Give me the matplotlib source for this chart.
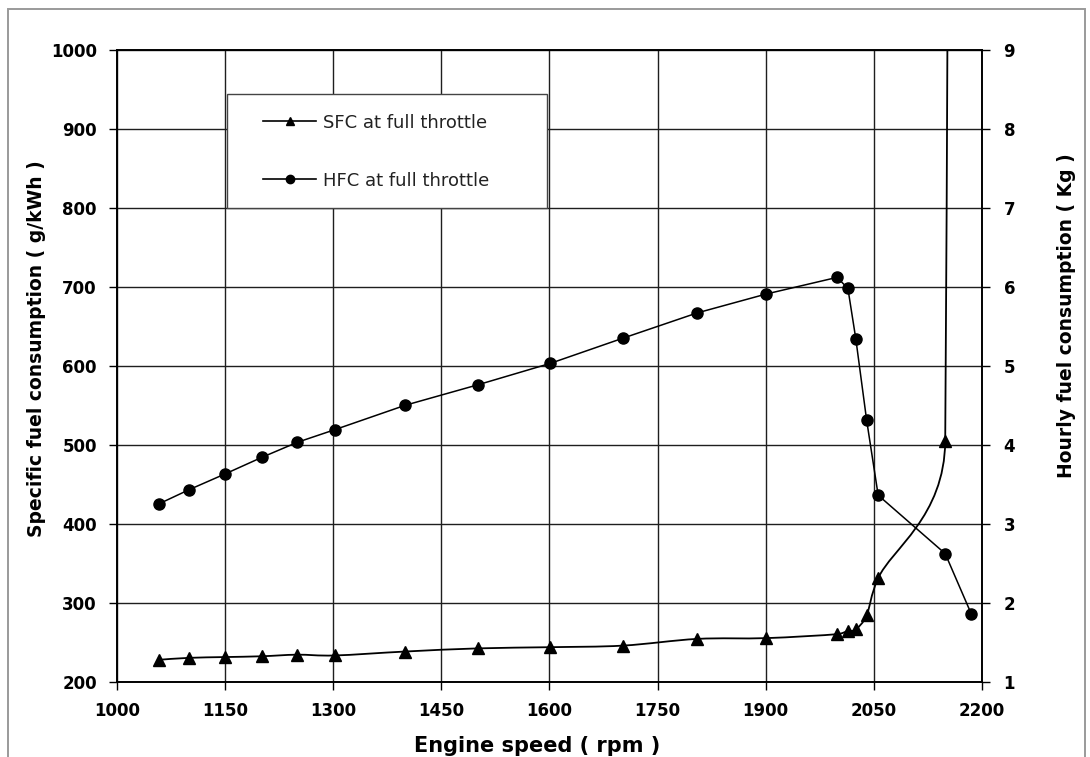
import numpy as np
import matplotlib
matplotlib.use('Agg')
import matplotlib.pyplot as plt
from matplotlib.path import Path
from matplotlib.patches import PathPatch, Rectangle
from matplotlib.lines import Line2D

# engine test points at full throttle
rpm = [1058, 1100, 1150, 1201, 1250, 1302, 1400, 1501, 1601, 1702, 1805,
       1901, 1999, 2014, 2025, 2040, 2056, 2149, 2185]
# specific fuel consumption, g/kWh (last point runs off the top of the chart)
sfc = [227.5, 230, 231, 232, 234, 233, 238, 242, 243.5, 245.5, 254,
       255, 260, 264, 266, 284, 331, 505, 18000]
# hourly fuel consumption, kg
hfc = [3.25, 3.43, 3.63, 3.84, 4.03, 4.19, 4.50, 4.76, 5.03, 5.35, 5.67,
       5.91, 6.12, 5.98, 5.34, 4.31, 3.36, 2.62, 1.86]

x_ticks = list(range(1000, 2201, 150))
sfc_ticks = list(range(200, 1001, 100))
hfc_ticks = list(range(1, 10))


def smooth_path(ax, xs, ys):
    """Spreadsheet-style smoothed line: cubic Bezier through every point,
    control arms limited to half of each segment (worked out in pixels)."""
    pts = ax.transData.transform(np.column_stack([xs, ys]))
    n = len(pts)
    verts = [pts[0]]
    codes = [Path.MOVETO]
    for i in range(n - 1):
        p0 = pts[i - 1] if i > 0 else pts[i]
        p1 = pts[i]
        p2 = pts[i + 1]
        p3 = pts[i + 2] if i + 2 < n else pts[i + 1]
        seg = np.hypot(*(p2 - p1))
        t1 = p2 - p0
        t2 = p3 - p1
        f1 = min(1 / 6, 0.5 * seg / max(np.hypot(*t1), 1e-9))
        f2 = min(1 / 6, 0.5 * seg / max(np.hypot(*t2), 1e-9))
        verts += [p1 + f1 * t1, p2 - f2 * t2, p2]
        codes += [Path.CURVE4] * 3
    verts = ax.transData.inverted().transform(np.array(verts))
    return Path(verts, codes)


fig = plt.figure(figsize=(10.9, 7.57), dpi=100)
ax = fig.add_axes([0.1073, 0.0997, 0.7936, 0.8342])
ax2 = ax.twinx()

ax.set_xlim(1000, 2200)
ax.set_ylim(200, 1000)
ax2.set_ylim(1, 9)

ax.set_xticks(x_ticks, labels=[str(t) for t in x_ticks], fontweight='bold')
ax.set_yticks(sfc_ticks, labels=[str(t) for t in sfc_ticks], fontweight='bold')
ax2.set_yticks(hfc_ticks, labels=[str(t) for t in hfc_ticks], fontweight='bold')

ax.tick_params(axis='both', direction='out', length=5.5, width=1,
               labelsize=12, pad=9, color='black')
ax2.tick_params(axis='y', direction='out', length=5.5, width=1,
                labelsize=12, pad=10)

ax.grid(True, color='#1e1e1e', lw=1.0)
for a in (ax, ax2):
    for sp in a.spines.values():
        sp.set_color('black')
        sp.set_linewidth(1.2)

# SFC on the left axis, smoothed line with triangles
ax.add_patch(PathPatch(smooth_path(ax, rpm, sfc), fill=False,
                       edgecolor='black', lw=1.3, zorder=3))
ax.plot(rpm, sfc, linestyle='none', marker='^', ms=8.5, color='black', zorder=4)

# HFC on the right axis, straight segments with circles
ax2.plot(rpm, hfc, color='black', lw=1.1, marker='o', ms=8, zorder=3)

# legend box
ax2.add_patch(Rectangle((0.1268, 0.7498), 0.37, 0.1805, transform=ax2.transAxes,
                        facecolor='white', edgecolor='#444444', lw=1.0, zorder=4))
handles = [Line2D([0], [0], color='black', lw=1.2, marker='^', ms=6),
           Line2D([0], [0], color='black', lw=1.2, marker='o', ms=6)]
leg = ax2.legend(handles, ['SFC at full throttle', 'HFC at full throttle'],
                 loc='upper left', bbox_to_anchor=(0.1691, 0.899),
                 frameon=False, borderpad=0, borderaxespad=0,
                 handlelength=2.95, handletextpad=0.37, labelspacing=2.2,
                 fontsize=13, labelcolor='#222222')
leg.set_zorder(5)

fig.text(537.5 / 1090, 1 - 751.7 / 757, 'Engine speed ( rpm )', ha='center',
         va='baseline', fontsize=15, fontweight='bold')
fig.text(36.5 / 1090, 1 - 348.5 / 757, 'Specific fuel consumption ( g/kWh )',
         rotation=90, ha='center', va='center', fontsize=13.5, fontweight='bold')
fig.text(1066 / 1090, 1 - 315.5 / 757, 'Hourly fuel consumption ( Kg )',
         rotation=90, ha='center', va='center', fontsize=13.5, fontweight='bold')

# outer chart border
fig.patches.append(Rectangle((8 / 1090, -0.01), 1077 / 1090, 1 - 9 / 757 + 0.01,
                             transform=fig.transFigure, fill=False,
                             edgecolor='#9a9a9a', lw=1.4))

fig.savefig('out.png', dpi=100)
